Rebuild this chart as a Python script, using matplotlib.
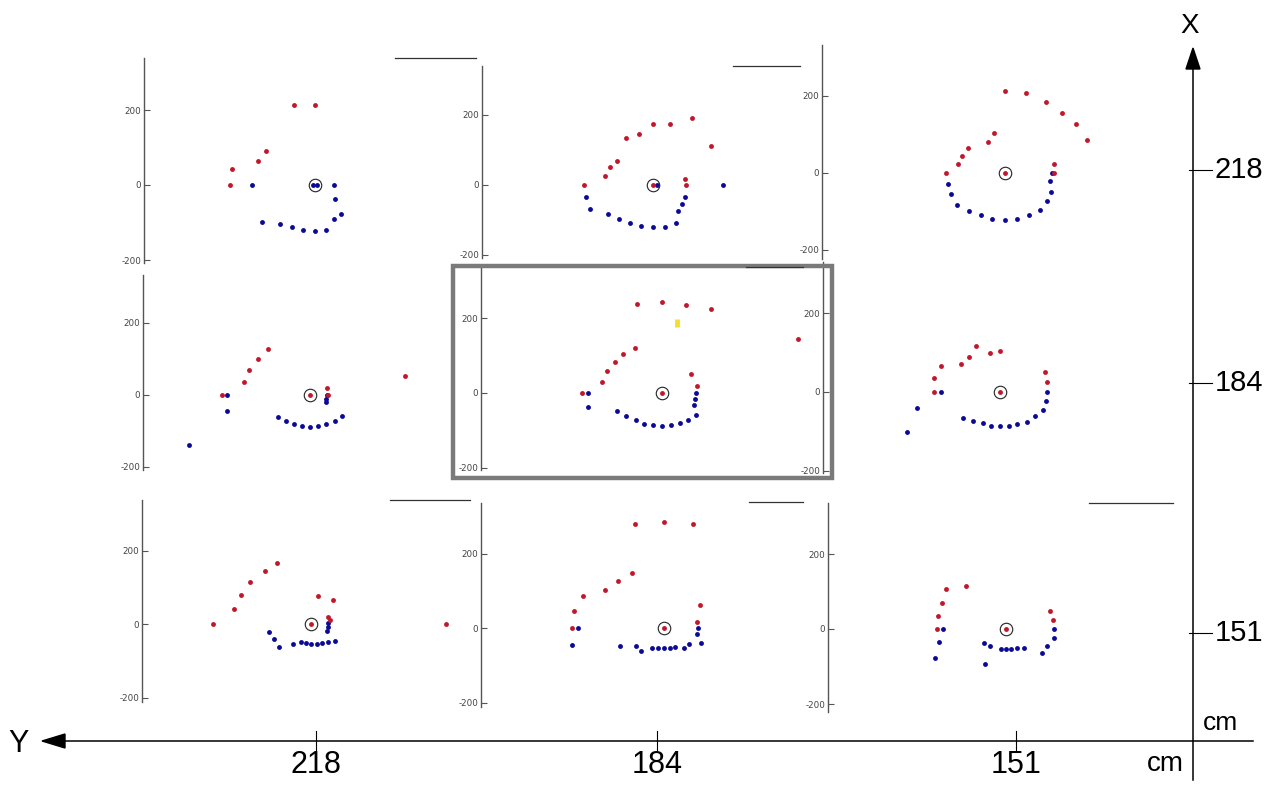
import matplotlib
matplotlib.use('Agg')
import matplotlib.pyplot as plt
from matplotlib.patches import Rectangle, Polygon

# ---------------- data (cm, relative to panel centre) ----------------
x_positions = [218, 184, 151]   # rows (X axis, vertical)
y_positions = [218, 184, 151]   # columns (Y axis, horizontal)
tick_values = [-200, 0, 200]

# row X=218
red_11_x = [-56, 0, -132, -152, -221, -227]
red_11_y = [213, 213, 92, 64, 44, 0]
blue_11_x = [-169, -5, 5, 50, 52, 70, 50, 30, 0, -32, -62, -94, -141]
blue_11_y = [0, 0, 0, 0, -37, -77, -92, -121, -124, -121, -113, -103, -99]

red_12_x = [-197, -136, -122, -103, -78, -40, 0, 48, 111, 167, 90, 95, 0]
red_12_y = [0, 26, 50, 69, 134, 147, 174, 174, 190, 110, 18, 0, 0]
blue_12_x = [-192, -181, -129, -97, -65, -33, 0, 33, 65, 72, 82, 90, 200, 10]
blue_12_y = [-35, -70, -82, -98, -109, -118, -121, -119, -110, -73, -53, -33, 0, 0]

red_13_x = [0, 55, 106, 148, 185, 213, -29, -45, -96, -111, -123, -153, 126, 128, 0]
red_13_y = [214, 207, 185, 156, 126, 87, 105, 80, 66, 45, 24, 0, 24, 0, 0]
blue_13_x = [-148, -139, -125, -94, -63, -33, 0, 32, 62, 92, 108, 120, 117, 122]
blue_13_y = [-29, -55, -82, -100, -110, -120, -123, -120, -110, -97, -74, -49, -22, 0]

# row X=184
red_21_x = [-245, -184, -169, -145, -117, 47, 51, 264, 0]
red_21_y = [0, 37, 69, 100, 128, 19, 0, 52, 0]
blue_21_x = [-231, -230, -337, -88, -67, -44, -22, 0, 23, 45, 69, 88, 46, 44, 44]
blue_21_y = [0, -44, -140, -60, -72, -81, -86, -88, -86, -81, -72, -59, 0, -12, -19]

red_22_x = [-66, 0, 65, 132, 364, -72, -104, -127, -147, -162, -215, 77, 94, 0]
red_22_y = [239, 244, 237, 226, 144, 122, 106, 82, 58, 30, 0, 51, 18, 0]
blue_22_x = [-200, -199, -121, -97, -70, -49, -24, 0, 23, 47, 71, 91, 85, 89, 92]
blue_22_y = [0, -37, -47, -63, -72, -82, -86, -89, -86, -81, -72, -58, -33, -16, 0]
yellow_22_x = [40, 40]
yellow_22_y = [177, 199]

red_23_x = [-167, -167, -150, -100, -78, -62, -25, 0, 115, 121, 0]
red_23_y = [0, 35, 65, 71, 88, 116, 99, 104, 50, 25, 0]
blue_23_x = [-150, -212, -237, -93, -68, -43, -22, 0, 22, 44, 68, 89, 110, 117, 121]
blue_23_y = [0, -42, -102, -65, -75, -80, -86, -87, -86, -81, -76, -62, -47, -24, 0]

# row X=151
red_31_x = [-268, -210, -190, -165, -126, -93, 20, 59, 45, 52, 366, 0]
red_31_y = [0, 42, 80, 114, 145, 167, 77, 64, 20, 11, 0, 0]
blue_31_x = [-115, -102, -88, -50, -28, -14, 0, 15, 29, 46, 65, 44, 45, 47]
blue_31_y = [-22, -42, -62, -54, -50, -53, -54, -54, -51, -50, -45, -19, -7, 2]

red_32_x = [-78, 0, 78, -87, -123, -158, -217, -241, -247, 97, 89, 0]
red_32_y = [278, 285, 279, 148, 127, 103, 86, 45, 0, 63, 16, 0]
blue_32_x = [-232, -246, -117, -74, -61, -31, -15, 0, 15, 30, 54, 67, 89, 91, 99]
blue_32_y = [0, -45, -47, -49, -63, -53, -55, -55, -55, -51, -55, -43, -17, 0, -39]

red_33_x = [-183, -182, -170, -161, -108, 117, 125, 0]
red_33_y = [0, 35, 69, 107, 114, 47, 24, 0]
blue_33_x = [-167, -178, -190, -58, -43, -55, -14, 0, 14, 29, 48, 95, 108, 128, 128]
blue_33_y = [0, -35, -76, -38, -44, -93, -53, -54, -53, -50, -50, -63, -44, -23, 0]

# ---------------- layout (pixels) ----------------
W, H = 1281, 785
fig = plt.figure(figsize=(W / 100, H / 100), dpi=100)
fig.patch.set_facecolor('white')

RED = '#c0182a'
BLUE = '#0a0a96'
GREY = '#555555'

# spine_x, spine_top, spine_bottom, y0_px, px_per_unit, centre_x_px
geom = {
    '11': (144, 58, 263, 185, 0.375, 315),
    '12': (482, 66, 258, 185, 0.35, 653),
    '13': (822, 45, 259, 173, 0.385, 1005),
    '21': (143, 275, 470, 395, 0.36, 310),
    '22': (481, 268, 470, 393, 0.3725, 662),
    '23': (823, 262, 473, 392, 0.3925, 1000),
    '31': (142, 500, 702, 624, 0.3675, 311),
    '32': (481, 503, 707, 628, 0.3725, 664),
    '33': (828, 503, 712, 629, 0.375, 1006),
}

series = {
    '11': (red_11_x, red_11_y, blue_11_x, blue_11_y),
    '12': (red_12_x, red_12_y, blue_12_x, blue_12_y),
    '13': (red_13_x, red_13_y, blue_13_x, blue_13_y),
    '21': (red_21_x, red_21_y, blue_21_x, blue_21_y),
    '22': (red_22_x, red_22_y, blue_22_x, blue_22_y),
    '23': (red_23_x, red_23_y, blue_23_x, blue_23_y),
    '31': (red_31_x, red_31_y, blue_31_x, blue_31_y),
    '32': (red_32_x, red_32_y, blue_32_x, blue_32_y),
    '33': (red_33_x, red_33_y, blue_33_x, blue_33_y),
}

PANEL_W = 320
for key, (sx, top, bot, y0, ppu, cx) in geom.items():
    left_f = sx / W
    bottom_f = 1 - bot / H
    ax = fig.add_axes([left_f, bottom_f, PANEL_W / W, (bot - top) / H])
    ax.set_facecolor('none')
    ax.set_xlim((sx - cx) / ppu, (sx + PANEL_W - cx) / ppu)
    ax.set_ylim((y0 - bot) / ppu, (y0 - top) / ppu)
    for s in ('top', 'right', 'bottom'):
        ax.spines[s].set_visible(False)
    ax.spines['left'].set_color(GREY)
    ax.spines['left'].set_linewidth(1.0)
    ax.set_xticks([])
    ax.set_yticks(tick_values)
    ax.set_yticklabels([str(v) for v in tick_values])
    ax.tick_params(axis='y', direction='in', length=4, width=0.8, colors=GREY,
                   labelsize=6.3, pad=2, labelcolor='#444444')
    rx, ry, bx, by = series[key]
    ax.plot(bx, by, 'o', color=BLUE, ms=3.5, mew=0, clip_on=False, zorder=3)
    ax.plot(rx, ry, 'o', color=RED, ms=3.5, mew=0, clip_on=False, zorder=3)
    ax.plot([0], [0], 'o', mfc='none', mec='#222222', ms=9, mew=0.8,
            clip_on=False, zorder=4)
    if key == '22':
        ax.plot(yellow_22_x, yellow_22_y, '-', color='#f2e030', lw=3.5,
                solid_capstyle='butt', clip_on=False, zorder=3)

# ---------------- overlay frame ----------------
ov = fig.add_axes([0, 0, 1, 1], zorder=10)
ov.set_xlim(0, W)
ov.set_ylim(H, 0)
ov.axis('off')
ov.set_facecolor('none')

# fragments of panel boxes
for x1, x2, yy in [(395, 476, 58), (733, 800, 66), (746, 803, 267),
                   (390, 470, 500), (749, 803, 502), (1089, 1173, 503)]:
    ov.plot([x1, x2], [yy, yy], color='#333333', lw=0.9)

# highlight box
ov.add_patch(Rectangle((453, 266), 379, 212, fill=False, ec='#7a7a7a', lw=3.2))

# big X axis (vertical)
AX_X = 1193
AX_Y = 741
ov.plot([AX_X, AX_X], [66, 780], color='black', lw=1.1)
ov.add_patch(Polygon([[AX_X, 48], [AX_X - 7, 69], [AX_X + 7, 69]], closed=True,
                     fc='black', ec='black'))
ov.text(1190, 26, 'X', fontsize=20, ha='center', va='center',
        family=['Liberation Sans', 'DejaVu Sans'])
for val, yy in zip(x_positions, [170, 383, 633]):
    ov.plot([AX_X - 4, AX_X + 19], [yy, yy], color='black', lw=0.8)
    ov.text(1215, yy, str(val), fontsize=21, ha='left', va='center',
            family=['Liberation Sans', 'DejaVu Sans'])

# big Y axis (horizontal)
ov.plot([62, 1253], [AX_Y, AX_Y], color='black', lw=1.1)
ov.add_patch(Polygon([[42, AX_Y], [65, AX_Y - 7], [65, AX_Y + 7]], closed=True,
                     fc='black', ec='black'))
ov.text(19, 744, 'Y', fontsize=22, ha='center', va='center',
        family=['Liberation Sans Narrow', 'Liberation Sans', 'DejaVu Sans'])
for val, xx in zip(y_positions, [316, 657, 1016]):
    ov.plot([xx, xx], [731, 750], color='black', lw=0.8)
    ov.text(xx, 765, str(val), fontsize=22, ha='center', va='center',
            family=['Liberation Sans Narrow', 'Liberation Sans', 'DejaVu Sans'])

ov.text(1220, 723, 'cm', fontsize=19, ha='center', va='center',
        family=['Liberation Sans', 'DejaVu Sans'])
ov.text(1165, 764, 'cm', fontsize=20, ha='center', va='center',
        family=['Liberation Sans Narrow', 'Liberation Sans', 'DejaVu Sans'])

fig.savefig('out.png', dpi=100, facecolor='white')
